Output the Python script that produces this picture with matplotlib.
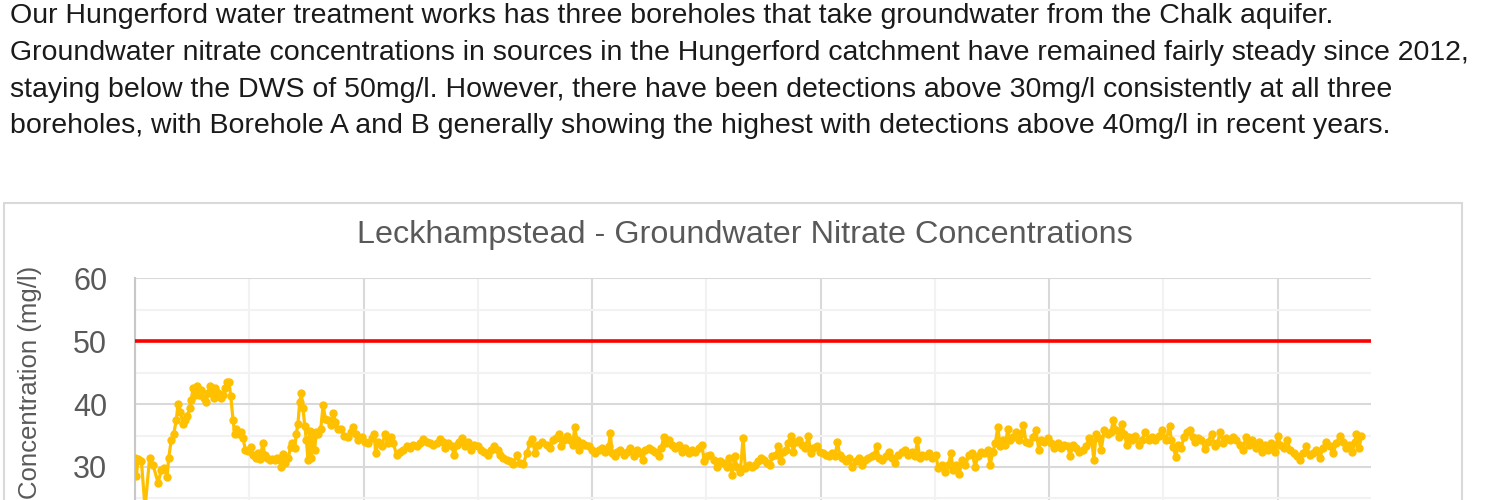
import numpy as np
import matplotlib
matplotlib.use("Agg")
import matplotlib.pyplot as plt
from matplotlib.patches import Rectangle

# ---------------------------------------------------
# 0. Datos
# ---------------------------------------------------

intro_lines = [
    "Our Hungerford water treatment works has three boreholes that take groundwater from the Chalk aquifer.",
    "Groundwater nitrate concentrations in sources in the Hungerford catchment have remained fairly steady since 2012,",
    "staying below the DWS of 50mg/l. However, there have been detections above 30mg/l consistently at all three",
    "boreholes, with Borehole A and B generally showing the highest with detections above 40mg/l in recent years.",
]

chart_title = "Leckhampstead - Groundwater Nitrate Concentrations"
y_label = "Concentration (mg/l)"

start_year = 2012
end_offset = 5.409          # right edge of the date axis, years after start
dws_limit = 50              # drinking water standard (mg/l)

# sample dates, years after start_year
offsets = [
    0.000, 0.006, 0.013, 0.028, 0.044, 0.064, 0.079, 0.101, 0.115, 0.127,
    0.141, 0.147, 0.159, 0.169, 0.181, 0.188, 0.198, 0.210, 0.220, 0.229,
    0.239, 0.246, 0.254, 0.261, 0.271, 0.280, 0.290, 0.301, 0.309, 0.319,
    0.327, 0.337, 0.346, 0.351, 0.363, 0.375, 0.385, 0.395, 0.403, 0.411,
    0.419, 0.429, 0.436, 0.443, 0.454, 0.465, 0.473, 0.483, 0.495, 0.506,
    0.516, 0.528, 0.538, 0.548, 0.559, 0.568, 0.579, 0.589, 0.601, 0.611,
    0.623, 0.633, 0.640, 0.649, 0.658, 0.670, 0.681, 0.688, 0.699, 0.706,
    0.713, 0.721, 0.728, 0.735, 0.743, 0.750, 0.757, 0.765, 0.772, 0.779,
    0.786, 0.793, 0.801, 0.813, 0.823, 0.833, 0.845, 0.856, 0.867, 0.877,
    0.888,
    0.902, 0.916, 0.931, 0.945, 0.955, 0.966, 0.977, 0.992, 1.007, 1.021,
    1.036, 1.047, 1.053, 1.065, 1.080, 1.094, 1.106, 1.120, 1.130, 1.145,
    1.160, 1.174, 1.189, 1.204, 1.218, 1.233, 1.247, 1.262, 1.277, 1.291,
    1.306, 1.320, 1.335, 1.349, 1.357, 1.371, 1.386, 1.397, 1.408, 1.418,
    1.430, 1.444, 1.459, 1.470, 1.485, 1.500, 1.514, 1.529, 1.544, 1.558,
    1.572, 1.587, 1.597, 1.612, 1.627, 1.641, 1.656, 1.670, 1.685, 1.699,
    1.714, 1.729, 1.739, 1.751, 1.765, 1.780,
    1.803, 1.817, 1.828, 1.842, 1.854, 1.866, 1.876, 1.891, 1.905, 1.916,
    1.924, 1.934, 1.944, 1.956, 1.971, 1.986, 2.000, 2.014, 2.029, 2.044,
    2.058, 2.073, 2.080, 2.088, 2.099, 2.109, 2.124, 2.139, 2.153, 2.168,
    2.182, 2.197, 2.211, 2.222, 2.233, 2.248, 2.263, 2.277, 2.292, 2.303,
    2.314, 2.324, 2.336, 2.350, 2.365, 2.379, 2.394, 2.408, 2.423, 2.438,
    2.452, 2.467, 2.481, 2.491, 2.503, 2.518, 2.533, 2.547, 2.562, 2.576,
    2.591, 2.601, 2.613, 2.624, 2.635, 2.649, 2.661, 2.671, 2.686,
    2.699, 2.713, 2.728, 2.738, 2.753, 2.767, 2.778, 2.789, 2.804, 2.815,
    2.826, 2.836, 2.848, 2.859, 2.870, 2.880, 2.891, 2.906, 2.920, 2.932,
    2.947, 2.957, 2.969, 2.983, 2.998, 3.011, 3.025, 3.037, 3.052, 3.063,
    3.074, 3.084, 3.095, 3.110, 3.125, 3.139, 3.154, 3.168, 3.180, 3.195,
    3.209, 3.224, 3.234, 3.246, 3.256, 3.271, 3.285, 3.300, 3.312, 3.326,
    3.341, 3.355, 3.370, 3.384, 3.399, 3.414, 3.424, 3.434, 3.446, 3.460,
    3.475, 3.489, 3.504, 3.516, 3.530, 3.545, 3.559, 3.571, 3.580, 3.594,
    3.607, 3.619, 3.634, 3.649, 3.663, 3.677, 3.688, 3.702, 3.717, 3.732,
    3.742, 3.754, 3.765, 3.776, 3.786, 3.797, 3.809, 3.819, 3.829, 3.841,
    3.856, 3.867, 3.877, 3.888, 3.899, 3.914, 3.929, 3.943, 3.955, 3.965,
    3.979, 3.994, 4.009, 4.023, 4.038, 4.053, 4.067, 4.082, 4.092, 4.104,
    4.118, 4.133, 4.147, 4.162, 4.176, 4.188, 4.196, 4.206, 4.217, 4.228,
    4.242, 4.257, 4.271, 4.282, 4.293, 4.308, 4.318, 4.330, 4.340, 4.352,
    4.363, 4.378, 4.392, 4.407, 4.422, 4.436, 4.451, 4.465, 4.480, 4.494,
    4.512,
    4.528, 4.535, 4.543, 4.555, 4.565, 4.579, 4.590, 4.602, 4.616, 4.628,
    4.638, 4.652, 4.667, 4.682, 4.696, 4.711, 4.726, 4.737, 4.750, 4.762,
    4.776, 4.791, 4.805, 4.820, 4.835, 4.849, 4.861, 4.876, 4.890, 4.905,
    4.920, 4.930, 4.944, 4.959, 4.973, 4.988, 5.002, 5.012, 5.027, 5.042,
    5.056, 5.071, 5.085, 5.097, 5.111, 5.126, 5.141, 5.155, 5.170, 5.184,
    5.199, 5.214, 5.228, 5.243, 5.258, 5.272, 5.287, 5.298, 5.313, 5.327,
    5.338, 5.345, 5.357, 5.367,
]

# nitrate concentration (mg/l)
nitrate = [
    31.5, 28.6, 31.2, 30.9, 23.5, 31.5, 30.3, 27.5, 29.5, 29.8,
    28.4, 31.4, 34.3, 35.2, 37.5, 40.0, 38.8, 36.9, 37.5, 38.1,
    39.4, 40.6, 42.5, 41.5, 42.8, 41.5, 42.2, 41.0, 40.4, 41.7,
    42.8, 42.1, 40.9, 42.5, 41.7, 41.0, 41.5, 42.5, 43.5, 43.5,
    41.3, 37.5, 35.3, 36.1, 35.3, 35.5, 34.6, 32.7, 32.5, 33.2,
    31.9, 31.4, 32.2, 31.3, 33.8, 31.9, 31.4, 31.1, 31.3, 31.1,
    31.5, 31.1, 30.0, 32.1, 30.6, 31.4, 33.2, 33.8, 33.1, 35.3,
    36.9, 40.4, 41.7, 39.4, 36.5, 34.3, 31.1, 35.8, 31.4, 34.8,
    32.7, 35.5, 35.3, 36.1, 39.8, 37.7, 37.5, 36.7, 38.6, 37.2,
    36.1,
    36.0, 35.0, 34.7, 35.6, 36.4, 35.3, 34.3, 34.8, 34.0, 33.8,
    34.6, 35.3, 32.2, 34.0, 33.3, 35.3, 33.8, 34.8, 33.8, 31.9,
    32.4, 32.7, 33.3, 33.0, 33.5, 33.3, 33.8, 34.4, 34.0, 33.8,
    33.5, 33.8, 34.4, 34.0, 33.0, 33.8, 33.3, 31.9, 33.5, 34.0,
    34.6, 33.3, 34.0, 32.7, 33.5, 33.3, 32.7, 32.4, 31.9, 32.7,
    33.3, 32.7, 31.9, 31.4, 31.1, 30.9, 30.4, 31.9, 30.6, 30.4,
    32.2, 33.8, 34.4, 32.2, 33.5, 34.0,
    33.5, 33.0, 34.3, 34.6, 35.3, 33.3, 34.3, 35.0, 34.3, 33.5,
    36.3, 34.3, 32.7, 33.8, 33.5, 33.3, 32.7, 32.2, 32.7, 33.0,
    32.4, 33.3, 35.4, 32.2, 31.7, 32.4, 32.7, 31.9, 32.4, 33.0,
    31.7, 32.7, 32.2, 31.1, 32.7, 33.0, 32.7, 32.4, 31.7, 33.0,
    34.8, 33.8, 34.3, 33.5, 33.0, 33.5, 32.4, 33.0, 32.2, 32.7,
    32.4, 33.0, 33.5, 30.9, 31.7, 31.9, 31.1, 30.0, 30.9, 30.6,
    30.0, 31.4, 28.7, 31.7, 30.0, 29.2, 34.6, 29.8, 30.3,
    30.0, 30.3, 30.9, 31.4, 31.1, 30.6, 30.3, 31.7, 31.9, 33.3,
    30.9, 32.4, 32.7, 33.8, 34.9, 32.4, 34.0, 34.3, 33.5, 33.0,
    34.9, 32.2, 33.0, 33.3, 32.4, 32.2, 31.9, 31.7, 32.2, 31.7,
    34.0, 31.9, 31.4, 30.9, 31.4, 30.0, 30.9, 31.4, 30.3, 31.1,
    31.4, 31.7, 31.9, 33.3, 31.4, 31.1, 31.7, 32.4, 31.4, 30.6,
    31.9, 32.4, 32.7, 31.9, 32.4, 31.7, 34.3, 31.4, 31.9, 31.7,
    32.2, 31.4, 31.9, 29.8, 30.3, 29.2, 30.3, 32.2, 29.5, 30.3,
    28.9, 31.1, 30.3, 31.9, 32.2, 30.0, 31.7, 32.4, 32.2, 32.7,
    30.3, 32.4, 33.8, 36.4, 33.3, 34.3, 33.5, 36.0, 34.3, 34.8,
    35.6, 34.3, 35.3, 36.7, 34.0, 33.8, 34.8, 35.9, 32.7, 34.3,
    34.0, 34.6, 33.8, 33.0, 33.8, 33.0, 33.5, 33.3, 31.7, 33.5,
    33.0, 32.4, 32.7, 33.3, 34.6, 34.0, 31.1, 35.3, 34.6, 32.7,
    35.9, 35.3, 35.6, 37.5, 35.9, 34.8, 36.9, 35.3, 33.5, 34.8,
    34.3, 35.0, 33.5, 34.3, 35.6, 34.3, 34.8, 34.3, 35.0, 35.9,
    34.3,
    36.5, 34.3, 33.2, 31.6, 33.5, 33.0, 34.8, 35.6, 35.9, 34.8,
    34.0, 34.6, 34.3, 32.9, 34.0, 35.3, 33.3, 33.8, 35.6, 33.8,
    34.6, 34.3, 34.8, 34.3, 33.5, 32.7, 34.8, 33.5, 34.3, 33.0,
    34.0, 32.4, 33.5, 32.7, 33.8, 32.4, 35.0, 33.5, 33.0, 34.3,
    32.7, 32.2, 31.7, 31.1, 32.2, 33.3, 31.9, 32.2, 32.7, 31.4,
    33.0, 34.0, 33.3, 32.2, 33.8, 35.0, 34.0, 33.0, 33.5, 32.4,
    34.0, 35.3, 33.0, 35.0,
]

y_min, y_max = 20, 60
y_ticks = [30, 40, 50, 60]          # 20 sits below the cut-off screenshot
y_minor = [25, 35, 45, 55]

dates = start_year + np.array(offsets)

# ---------------------------------------------------
# 1. Figura
# ---------------------------------------------------

plt.rcParams["font.family"] = ["Liberation Sans", "DejaVu Sans"]

W, H = 1487, 500
fig = plt.figure(figsize=(W / 100, H / 100), dpi=100)
fig.patch.set_facecolor("white")

# paragraph above the chart
baselines = [23, 60, 97, 133]
for line, yb in zip(intro_lines, baselines):
    fig.text(10 / W, 1 - yb / H, line, fontsize=20.5, color="#1a1a1a",
             ha="left", va="baseline")

# chart frame (runs off the bottom of the screenshot)
fig.patches.append(Rectangle((4 / W, -0.5), (1462 - 4) / W, 0.5 + 1 - 203 / H,
                             transform=fig.transFigure, fill=False,
                             edgecolor="#d9d9d9", linewidth=1.5))

fig.text(745 / W, 1 - 235 / H, chart_title, fontsize=23.3, color="#595959",
         ha="center", va="center")

# plot area: 60 at y=278px, 10 mg/l = 62.9px
top_px, left_px, right_px = 278.3, 135, 1371
bottom_px = top_px + (y_max - y_min) * 6.29
ax = fig.add_axes([left_px / W, 1 - bottom_px / H,
                   (right_px - left_px) / W, (bottom_px - top_px) / H])

ax.plot(dates, nitrate, color="#FFC000", linewidth=2.3, marker="o",
        markersize=5.0, zorder=3)
ax.axhline(dws_limit, color="#FF0000", linewidth=2.6, zorder=4)

ax.set_yticks(y_ticks)
ax.set_yticks(y_minor, minor=True)
ax.set_xticks(np.arange(start_year, start_year + 6))
ax.set_xticks(np.arange(start_year, start_year + 5) + 0.5, minor=True)
ax.set_xlim(start_year, start_year + end_offset)
ax.set_ylim(y_min, y_max)

ax.grid(which="major", color="#d9d9d9", linewidth=1.5, zorder=0)
ax.grid(which="minor", color="#f2f2f2", linewidth=1.5, zorder=0)
ax.set_axisbelow(True)

for side in ["top", "right", "bottom"]:
    ax.spines[side].set_visible(False)
ax.spines["left"].set_color("#c8c8c8")
ax.spines["left"].set_linewidth(1.5)

ax.tick_params(axis="both", which="both", length=0)
ax.tick_params(axis="y", labelsize=22, labelcolor="#595959", pad=20)
ax.tick_params(axis="x", labelbottom=False)

fig.text(30 / W, 1 - 382 / H, y_label, rotation=90, fontsize=18.5,
         color="#595959", ha="center", va="center")

fig.savefig("out.png", dpi=100)
